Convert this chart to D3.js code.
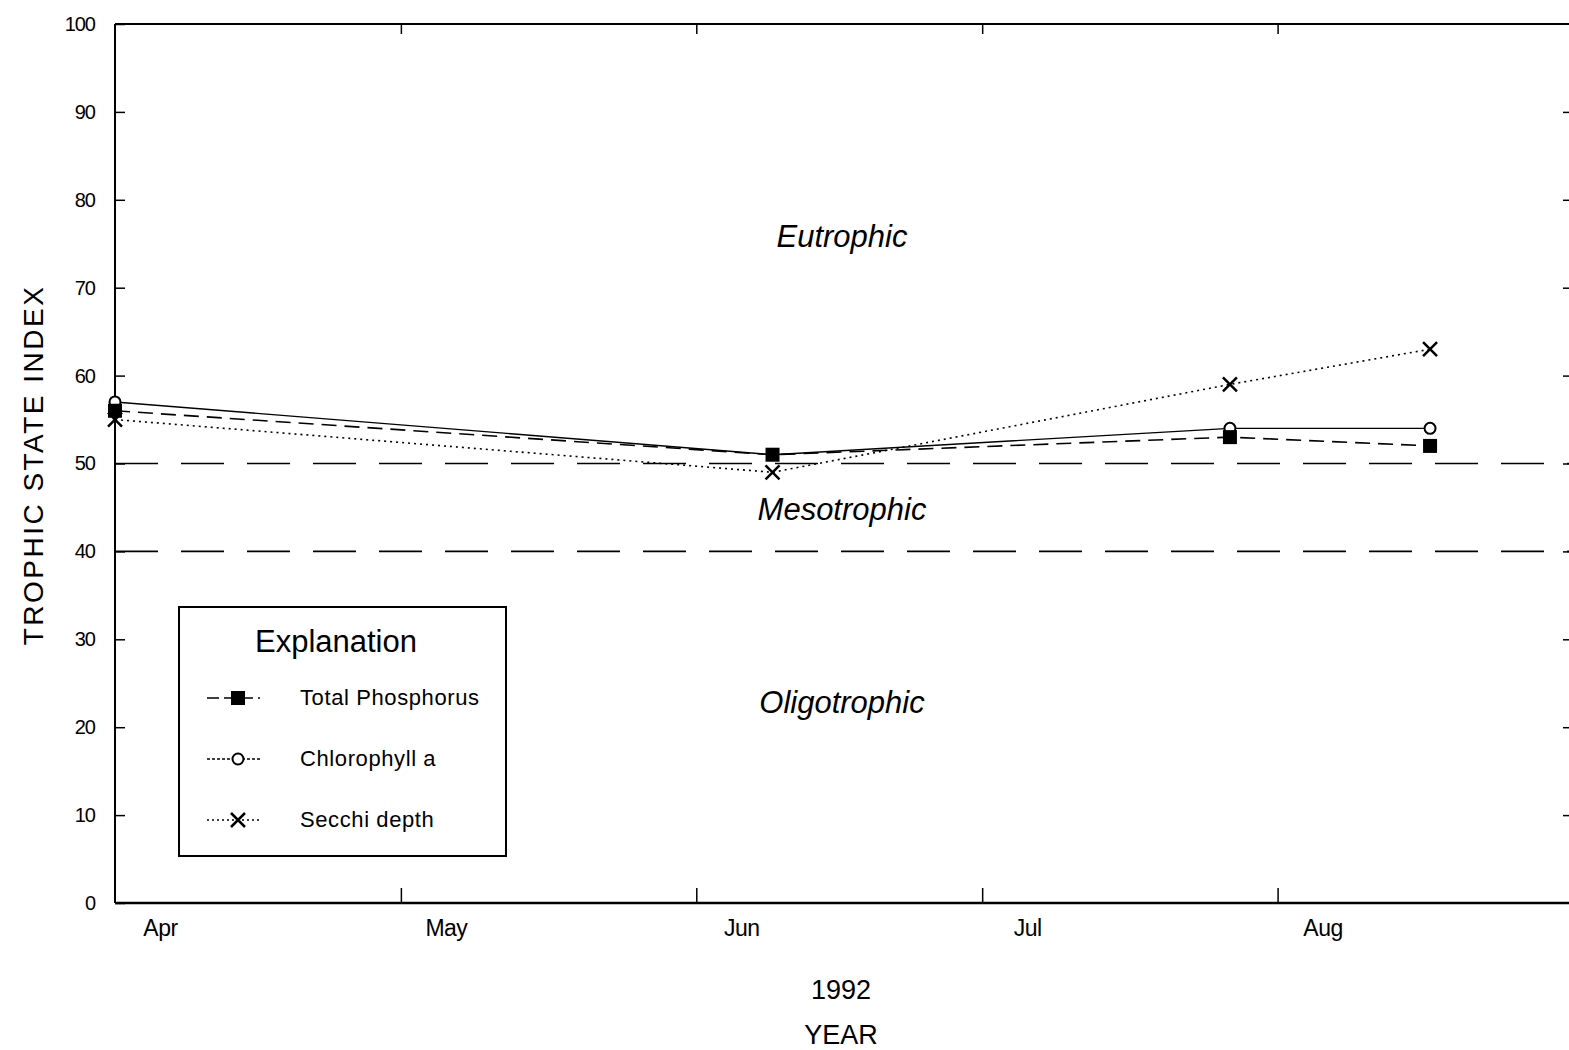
<!DOCTYPE html>
<html>
<head>
<meta charset="utf-8">
<script src="https://cdn.jsdelivr.net/npm/d3@7"></script>
<style>
  html, body { margin: 0; padding: 0; background: #fff; }
  svg { display: block; }
  text { font-family: "Liberation Sans", Arial, Helvetica, sans-serif; fill: #000; }
</style>
</head>
<body>
<svg id="chart" width="1569" height="1050"></svg>
<script>
// ---- data ----
const sampleDates = ["1992-04-01", "1992-06-09", "1992-07-27", "1992-08-17"];
const totalPhosphorus = [56, 51, 53, 52];
const chlorophyllA = [57, 51, 54, 54];
const secchiDepth = [55, 49, 59, 63];
const seriesNames = ["Total Phosphorus", "Chlorophyll a", "Secchi depth"];
const yTicks = [0, 10, 20, 30, 40, 50, 60, 70, 80, 90, 100];
const boundaries = [40, 50];
const zoneLabels = ["Eutrophic", "Mesotrophic", "Oligotrophic"];
const zoneLabelValues = [75.6, 44.5, 22.5];

const parse = d3.timeParse("%Y-%m-%d");
const svg = d3.select("#chart");

const pL = 115, pR = 1573, pT = 24, pB = 903;
const x = d3.scaleTime().domain([parse("1992-04-01"), parse("1992-09-01")]).range([pL, pR]);
const y = d3.scaleLinear().domain([0, 100]).range([pB, pT]);

// frame lines
const g = svg.append("g");
g.append("line").attr("x1", pL).attr("x2", pR).attr("y1", pT).attr("y2", pT)
  .attr("stroke", "#000").attr("stroke-width", 2);
g.append("line").attr("x1", pL).attr("x2", pR).attr("y1", pB).attr("y2", pB)
  .attr("stroke", "#000").attr("stroke-width", 2.5);
g.append("line").attr("x1", pL).attr("x2", pL).attr("y1", pT).attr("y2", pB)
  .attr("stroke", "#000").attr("stroke-width", 2);

// y axis left
const yAxis = d3.axisLeft(y).tickValues(yTicks).tickSize(-10).tickPadding(20).tickFormat(d3.format("d"));
const ya = svg.append("g").attr("transform", `translate(${pL},0)`).call(yAxis);
ya.select(".domain").remove();
ya.selectAll("line").attr("stroke", "#000").attr("stroke-width", 1.5);
ya.selectAll("text").style("font-family", '"Liberation Sans Narrow", "Liberation Sans", Arial, sans-serif')
  .style("font-size", "20px").style("letter-spacing", "-1px").attr("fill", "#000");

// y axis right (ticks only)
const yAxisR = d3.axisRight(y).tickValues(yTicks.filter(d => d > 0 && d < 100)).tickSize(-10).tickFormat("");
const yr = svg.append("g").attr("transform", `translate(${pR},0)`).call(yAxisR);
yr.select(".domain").remove();
yr.selectAll("line").attr("stroke", "#000").attr("stroke-width", 1.5);

// x axis bottom
const monthTicks = x.ticks(d3.timeMonth.every(1)).filter(d => d < parse("1992-09-01"));
const xAxis = d3.axisBottom(x).tickValues(monthTicks).tickSize(-15).tickPadding(17).tickFormat(d3.timeFormat("%b"));
const xa = svg.append("g").attr("transform", `translate(0,${pB})`).call(xAxis);
xa.select(".domain").remove();
xa.selectAll("line").attr("stroke", "#000").attr("stroke-width", 1.5)
  .attr("opacity", (d, i) => i === 0 ? 0 : 1);
xa.selectAll("text").attr("dx", 45).style("font-size", "23px").style("letter-spacing", "-0.5px").attr("fill", "#000");

// x axis top ticks
const xAxisT = d3.axisTop(x).tickValues(monthTicks.slice(1)).tickSize(-10).tickFormat("");
const xt = svg.append("g").attr("transform", `translate(0,${pT})`).call(xAxisT);
xt.select(".domain").remove();
xt.selectAll("line").attr("stroke", "#000").attr("stroke-width", 1.5);

// boundaries
svg.append("g").selectAll("line").data(boundaries).join("line")
  .attr("x1", pL).attr("x2", pR)
  .attr("y1", d => y(d)).attr("y2", d => y(d))
  .attr("stroke", "#000").attr("stroke-width", 1.6)
  .attr("stroke-dasharray", "43,23");

// zone labels
svg.append("g").selectAll("text").data(zoneLabels).join("text")
  .attr("x", 842).attr("y", (d, i) => y(zoneLabelValues[i]))
  .attr("text-anchor", "middle").attr("dominant-baseline", "middle")
  .style("font-size", "31px").style("font-style", "italic")
  .text(d => d);

// series
const series = [
  { name: seriesNames[0], values: totalPhosphorus, dash: "15,8", width: 1.6, marker: "square" },
  { name: seriesNames[1], values: chlorophyllA, dash: null, width: 1.4, marker: "circle" },
  { name: seriesNames[2], values: secchiDepth, dash: "2,4", width: 1.6, marker: "cross" }
];
const dates = sampleDates.map(parse);
const line = d3.line().x(d => x(d[0])).y(d => y(d[1]));

function drawMarker(sel, type, cx, cy) {
  if (type === "square") {
    sel.append("rect").attr("x", cx - 7).attr("y", cy - 7).attr("width", 14).attr("height", 14).attr("fill", "#000");
  } else if (type === "circle") {
    sel.append("circle").attr("cx", cx).attr("cy", cy).attr("r", 5.5).attr("fill", "#fff")
      .attr("stroke", "#000").attr("stroke-width", 2);
  } else {
    const s = 7;
    sel.append("path").attr("d", `M${cx - s},${cy - s}L${cx + s},${cy + s}M${cx - s},${cy + s}L${cx + s},${cy - s}`)
      .attr("stroke", "#000").attr("stroke-width", 2.5).attr("fill", "none");
  }
}

series.forEach(s => {
  const pts = dates.map((d, i) => [d, s.values[i]]);
  svg.append("path").datum(pts).attr("d", line).attr("fill", "none")
    .attr("stroke", "#000").attr("stroke-width", s.width)
    .attr("stroke-dasharray", s.dash);
});
// draw markers: circles and crosses first, squares on top
[series[1], series[2], series[0]].forEach(s => {
  const gm = svg.append("g");
  dates.forEach((d, i) => drawMarker(gm, s.marker, x(d), y(s.values[i])));
});

// legend
const lg = svg.append("g");
lg.append("rect").attr("x", 179).attr("y", 607).attr("width", 327).attr("height", 249)
  .attr("fill", "#fff").attr("stroke", "#000").attr("stroke-width", 2);
lg.append("text").attr("x", 336).attr("y", 652).attr("text-anchor", "middle")
  .style("font-size", "31px").text("Explanation");
series.forEach((s, i) => {
  const yy = 698 + i * 61;
  lg.append("line").attr("x1", 207).attr("x2", 260).attr("y1", yy).attr("y2", yy)
    .attr("stroke", "#000").attr("stroke-width", s.width).attr("stroke-dasharray", s.dash ? (i === 0 ? "12,5" : "2,3") : "3,2");
  drawMarker(lg, s.marker, 238, yy);
  lg.append("text").attr("x", 300).attr("y", yy + 7).style("font-size", "22px")
    .style("letter-spacing", "0.6px").text(s.name);
});

// axis titles
svg.append("text").attr("transform", "translate(43,465) rotate(-90)")
  .attr("text-anchor", "middle").style("font-size", "28px").style("letter-spacing", "2.5px")
  .text("TROPHIC STATE INDEX");
svg.append("text").attr("x", 841).attr("y", 999).attr("text-anchor", "middle")
  .style("font-size", "27px").text("1992");
svg.append("text").attr("x", 841).attr("y", 1044).attr("text-anchor", "middle")
  .style("font-size", "27px").text("YEAR");
</script>
</body>
</html>
